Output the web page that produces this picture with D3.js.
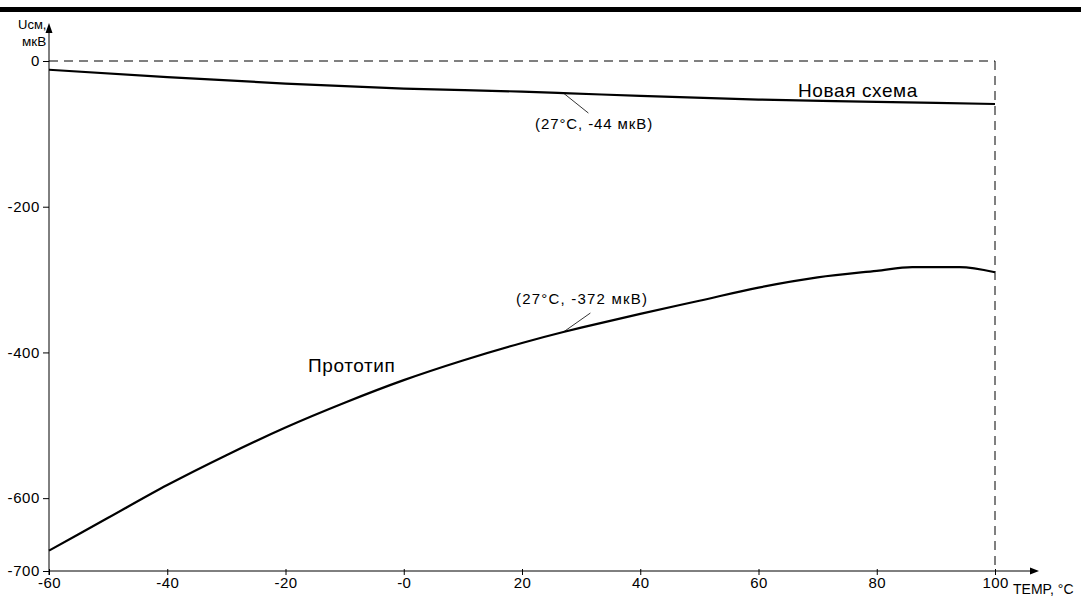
<!DOCTYPE html>
<html><head><meta charset="utf-8">
<script src="https://cdn.jsdelivr.net/npm/d3@7"></script>
<style>body{margin:0;background:#fff}svg{display:block}text{font-family:"Liberation Sans",Arial,sans-serif;fill:#000}</style>
</head><body>
<script>
const tempNew = [-60,-40,-20,0,20,27,40,60,80,100];
const valNew  = [-12,-22,-31,-38,-42,-44,-48,-53,-56,-59];
const tempProto = [-60,-50,-40,-30,-20,-10,0,10,20,27,30,40,50,60,70,80,86,94,100];
const valProto  = [-672,-627,-582,-541,-503,-469,-438,-411,-387,-372,-366,-347,-329,-311,-297,-288,-283,-283,-290];
const xTickVals = [-60,-40,-20,0,20,40,60,80,100];
const xTickLabels = ["-60","-40","-20","-0","20","40","60","80","100"];
const yTickVals = [0,-200,-400,-600,-700];
const yTickLabels = ["0","-200","-400","-600","-700"];

const W=1081,H=597;
const svg=d3.select("body").append("svg").attr("width",W).attr("height",H);
const x=d3.scaleLinear().domain([-60,100]).range([49,995]);
const y=d3.scaleLinear().domain([0,-700]).range([61,571]);

svg.append("rect").attr("x",0).attr("y",7).attr("width",W).attr("height",5).attr("fill","#000");

// dashed reference lines
svg.append("line").attr("x1",x(-60)).attr("x2",x(100)).attr("y1",y(0)).attr("y2",y(0))
  .attr("stroke","#000").attr("stroke-width",1).attr("stroke-dasharray","9,6");
svg.append("line").attr("x1",x(100)).attr("x2",x(100)).attr("y1",y(0)).attr("y2",y(-700))
  .attr("stroke","#000").attr("stroke-width",1).attr("stroke-dasharray","9,6");

// axes
const xAxis=d3.axisBottom(x).tickValues(xTickVals).tickFormat((d,i)=>xTickLabels[i]).tickSizeInner(4).tickSizeOuter(0).tickPadding(2);
const gx=svg.append("g").attr("transform",`translate(0,${y(-700)})`).call(xAxis);
gx.select(".domain").remove();
gx.selectAll(".tick line").attr("y1",-2).attr("y2",4);
gx.selectAll("text").style("font-size","15px").style("letter-spacing","0.4px").attr("dy","0.71em");
const yAxis=d3.axisLeft(y).tickValues(yTickVals).tickFormat((d,i)=>yTickLabels[i]).tickSizeInner(6).tickSizeOuter(0).tickPadding(3);
const gy=svg.append("g").attr("transform",`translate(${x(-60)},0)`).call(yAxis);
gy.select(".domain").remove();
gy.selectAll("text").style("font-size","15px").style("letter-spacing","0.6px");

svg.append("line").attr("x1",x(-60)).attr("x2",1032).attr("y1",y(-700)).attr("y2",y(-700)).attr("stroke","#000");
svg.append("path").attr("d",`M1039,${y(-700)} L1030,${y(-700)-3.5} L1030,${y(-700)+3.5}Z`).attr("fill","#000");
svg.append("line").attr("x1",x(-60)).attr("x2",x(-60)).attr("y1",y(-700)+4).attr("y2",27).attr("stroke","#000");
svg.append("path").attr("d",`M${x(-60)},23 L${x(-60)-3.5},33 L${x(-60)+3.5},33Z`).attr("fill","#000");

svg.append("text").attr("x",18).attr("y",29).style("font-size","13px").text("Uсм,");
svg.append("text").attr("x",22).attr("y",46).style("font-size","13.5px").text("мкВ");
svg.append("text").attr("x",1013).attr("y",594).style("font-size","14px").text("TEMP, °C");

// curves
const line=d3.line().x(d=>x(d[0])).y(d=>y(d[1])).curve(d3.curveMonotoneX);
svg.append("path").datum(tempNew.map((t,i)=>[t,valNew[i]])).attr("d",line)
  .attr("fill","none").attr("stroke","#000").attr("stroke-width",2.2);
svg.append("path").datum(tempProto.map((t,i)=>[t,valProto[i]])).attr("d",line)
  .attr("fill","none").attr("stroke","#000").attr("stroke-width",2.2);

// labels
svg.append("text").attr("x",798).attr("y",97).style("font-size","19px").style("letter-spacing","0.6px").text("Новая схема");
svg.append("text").attr("x",308).attr("y",372).style("font-size","19px").style("letter-spacing","0.6px").text("Прототип");

// annotations
svg.append("line").attr("x1",x(27)).attr("y1",y(-44)).attr("x2",x(27)+25).attr("y2",y(-44)+20).attr("stroke","#000").attr("stroke-width",0.8);
svg.append("text").attr("x",535).attr("y",129).style("font-size","15px").style("letter-spacing","0.9px").text("(27°C, -44 мкВ)");
svg.append("line").attr("x1",x(27)).attr("y1",y(-372)).attr("x2",x(27)+27).attr("y2",y(-372)-19).attr("stroke","#000").attr("stroke-width",0.8);
svg.append("text").attr("x",516).attr("y",304).style("font-size","15px").style("letter-spacing","1.2px").text("(27°C, -372 мкВ)");
</script>
</body></html>
